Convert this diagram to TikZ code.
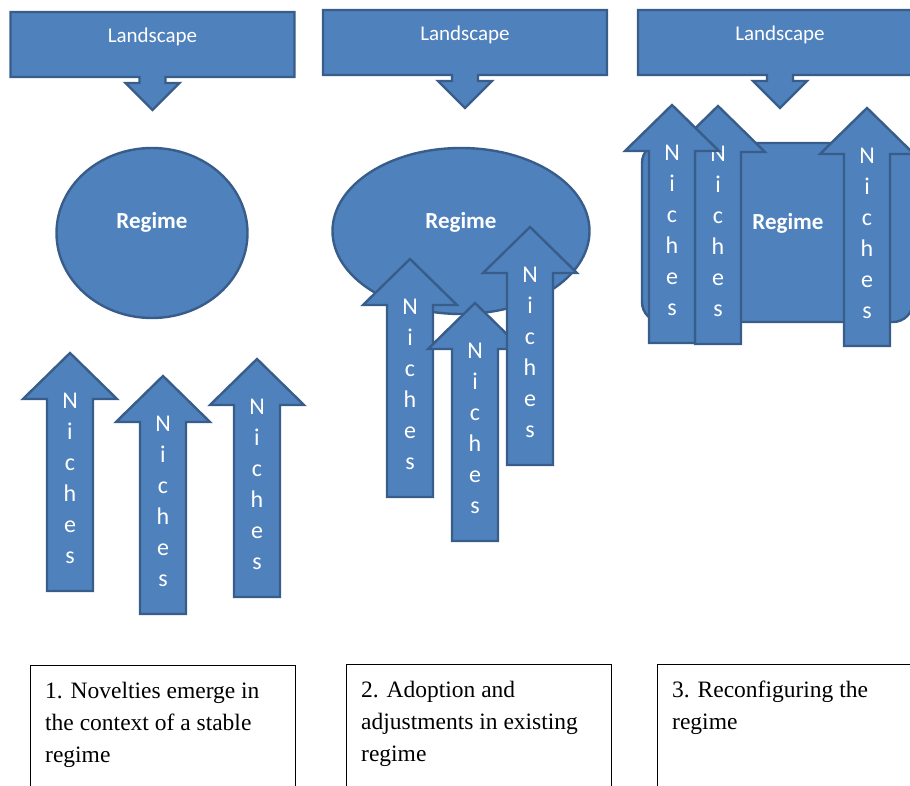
\documentclass[tikz,border=0pt]{standalone}
\usepackage{fontspec}
\setmainfont{Liberation Serif}
\newfontfamily\calibri{Carlito}
\usetikzlibrary{shapes.geometric}

\definecolor{shapeblue}{HTML}{4F81BD}
\definecolor{edgeblue}{HTML}{385D8A}

\begin{document}
\begin{tikzpicture}[x=1pt,y=-1pt,
    blueshape/.style={fill=shapeblue,draw=edgeblue,line width=2.4pt},
    landtext/.style={text=white,font=\calibri\fontsize{21}{25}\selectfont,inner sep=0pt},
    regimetext/.style={text=white,font=\calibri\bfseries\fontsize{23}{27}\selectfont,inner sep=0pt},
    nichetext/.style={text=white,font=\calibri\fontsize{24}{31}\selectfont,align=center,inner sep=0pt,anchor=north},
    regime/.style={blueshape,ellipse,inner sep=0pt},
    capbox/.style={draw=black,line width=0.8pt,anchor=north west,minimum width=265pt,minimum height=150pt,inner sep=0pt},
    captext/.style={font=\fontsize{23.5}{32}\selectfont,align=left,inner sep=0pt,anchor=north west},
    landscape/.pic={
        \filldraw[blueshape] (-142,0) -- (142,0) -- (142,65) -- (13,65) -- (13,71)
            -- (27,71) -- (0,98) -- (-27,71) -- (-13,71) -- (-13,65) -- (-142,65) -- cycle;
        \node[landtext,anchor=base] (-t) at (0,31) {Landscape};
    },
    niche/.pic={
        \filldraw[blueshape] (0,0) -- (47,46) -- (23,46) -- (23,238)
            -- (-23,238) -- (-23,46) -- (-47,46) -- cycle;
        \node[nichetext] (-t) at (0,40) {N\\i\\c\\h\\e\\s};
    }
  ]
\clip (0,0) rectangle (910,786);

% 1. stable regime
\pic (land1) at (152.5,12) {landscape};
\node[regime,minimum width=191pt,minimum height=170pt] (reg1) at (152,233) {};
\node[regimetext] (reg1t) at (152,222) {Regime};
\pic (n1a) at (70,353) {niche};
\pic (n1b) at (163,376) {niche};
\pic (n1c) at (257,359) {niche};

% 2. adoption
\pic (land2) at (465,10) {landscape};
\node[regime,minimum width=257pt,minimum height=166pt] (reg2) at (461,231) {};
\node[regimetext] (reg2t) at (461,222) {Regime};
\pic (n2a) at (410,259) {niche};
\pic (n2b) at (475,303) {niche};
\pic (n2c) at (530,227) {niche};

% 3. reconfiguring
\pic (land3) at (780,10) {landscape};
\node[blueshape,rounded corners=20pt,minimum width=271pt,minimum height=179pt] (reg3) at (777.5,232.5) {};
\pic (n3b) at (718,106) {niche};
\pic (n3a) at (672,105) {niche};
\pic (n3c) at (867,108) {niche};
\node[regimetext] (reg3t) at (788,223) {Regime};

% captions
\node[capbox] (cap1) at (30,665) {};
\node[captext] (txt1) at ([xshift=15pt,yshift=-17pt]cap1.north west)
    {1. Novelties emerge in\\the context of a stable\\regime};
\node[capbox] (cap2) at (346,664) {};
\node[captext] (txt2) at ([xshift=15pt,yshift=-17pt]cap2.north west)
    {2. Adoption and\\adjustments in existing\\regime};
\node[capbox] (cap3) at (657,664) {};
\node[captext] (txt3) at ([xshift=15pt,yshift=-17pt]cap3.north west)
    {3. Reconfiguring the\\regime};
\end{tikzpicture}
\end{document}
